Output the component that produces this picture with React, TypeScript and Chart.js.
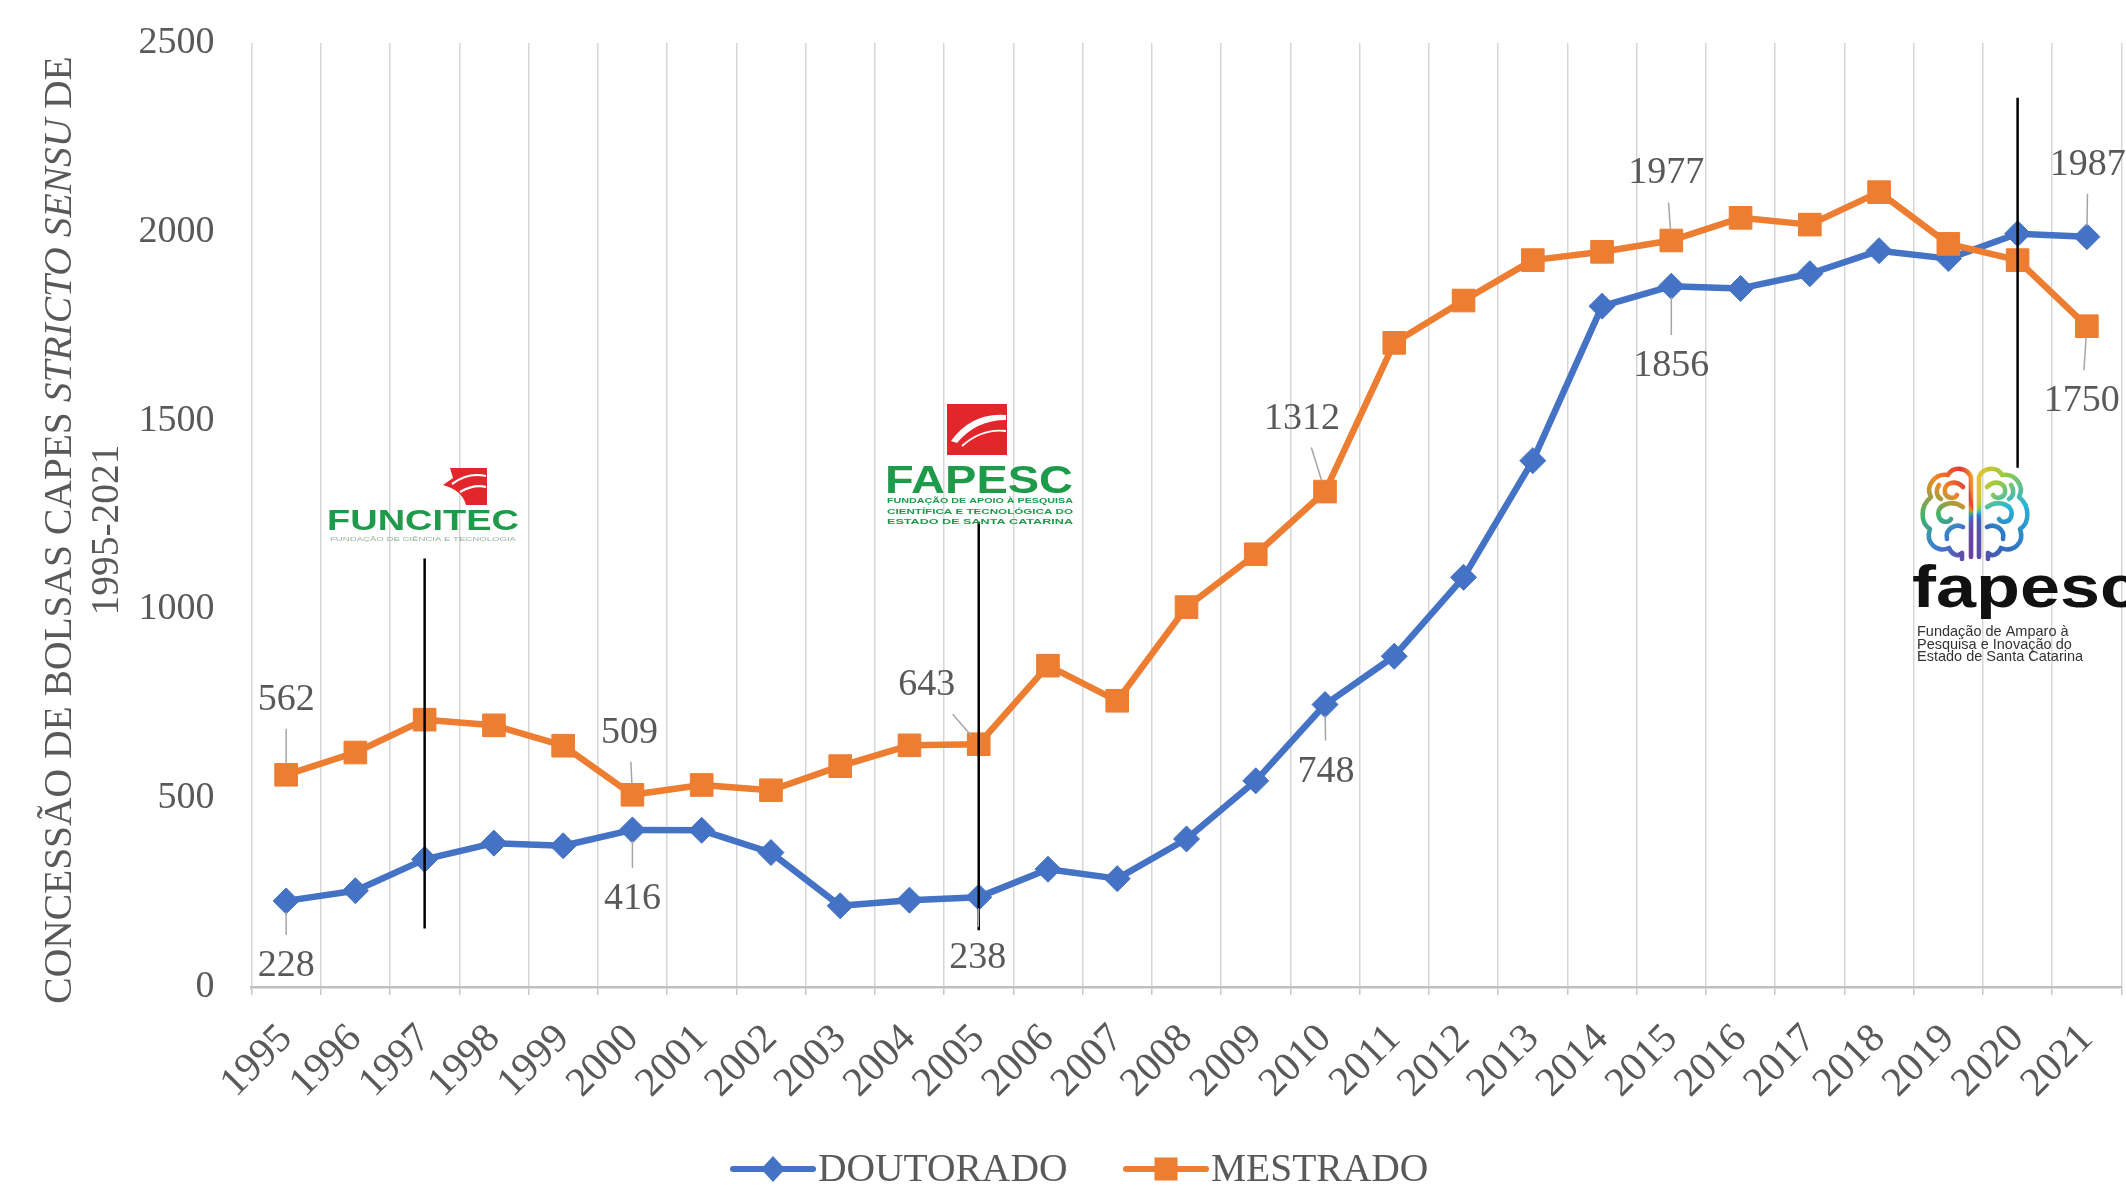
import React, { useEffect, useRef } from 'react';
import { Chart, registerables } from 'chart.js';

Chart.register(...registerables);

// Years on the category axis
const years = [
  '1995', '1996', '1997', '1998', '1999', '2000', '2001', '2002', '2003',
  '2004', '2005', '2006', '2007', '2008', '2009', '2010', '2011', '2012',
  '2013', '2014', '2015', '2016', '2017', '2018', '2019', '2020', '2021',
];

// CAPES grants per year
const doutorado = [
  228, 255, 338, 381, 374, 416, 415, 356, 215, 230, 238, 312, 287, 392,
  546, 748, 876, 1085, 1394, 1803, 1856, 1850, 1889, 1950, 1929, 1995, 1987,
];
const mestrado = [
  562, 621, 708, 693, 639, 509, 535, 521, 585, 640, 643, 851, 758, 1006,
  1146, 1312, 1706, 1818, 1925, 1947, 1977, 2037, 2019, 2105, 1968, 1925, 1750,
];

// Value axis
const yMin = 0;
const yMax = 2500;
const yStep = 500;

// Years in which a state funding agency appears, with the span of its marker line
const agencyYears = ['1997', '2005', '2020'];
const agencyLineTop = [1135, 1232, 2355];
const agencyLineBottom = [155, 150, 1375];

// Points that carry a value label (dataset index, year index, label offset in px)
const pointLabels = [
  { ds: 1, i: 0, dx: 0, dy: -76 },
  { ds: 0, i: 0, dx: 0, dy: 64 },
  { ds: 1, i: 5, dx: -3, dy: -63 },
  { ds: 0, i: 5, dx: 0, dy: 68 },
  { ds: 1, i: 10, dx: -52, dy: -60 },
  { ds: 0, i: 10, dx: -1, dy: 60 },
  { ds: 1, i: 15, dx: -23, dy: -74 },
  { ds: 0, i: 15, dx: 1, dy: 66 },
  { ds: 1, i: 20, dx: -5, dy: -68 },
  { ds: 0, i: 20, dx: 0, dy: 79 },
  { ds: 0, i: 26, dx: 1, dy: -73 },
  { ds: 1, i: 26, dx: -5, dy: 74 },
];

const SERIF = "'Liberation Serif', 'Times New Roman', serif";
const SANS = "'Liberation Sans', Arial, sans-serif";
const TEXT = '#595959';
const BLUE = '#4472C4';
const ORANGE = '#ED7D31';
const GREEN = '#1E9A4B';
const RED = '#E3262B';

function fitText(ctx: CanvasRenderingContext2D, text: string, x: number, y: number, width: number, font: string, color: string) {
  ctx.save();
  ctx.font = font;
  ctx.fillStyle = color;
  ctx.textAlign = 'left';
  ctx.textBaseline = 'alphabetic';
  const w = ctx.measureText(text).width;
  ctx.translate(x, y);
  ctx.scale(width / w, 1);
  ctx.fillText(text, 0, 0);
  ctx.restore();
}

function drawFuncitec(ctx: CanvasRenderingContext2D) {
  ctx.save();
  ctx.fillStyle = RED;
  ctx.beginPath();
  ctx.moveTo(450, 468);
  ctx.lineTo(487, 468);
  ctx.lineTo(487, 505);
  ctx.lineTo(466, 505);
  ctx.quadraticCurveTo(462, 490, 443, 485);
  ctx.lineTo(453, 478);
  ctx.closePath();
  ctx.fill();
  ctx.strokeStyle = '#ffffff';
  ctx.lineWidth = 2.2;
  ctx.beginPath();
  ctx.moveTo(452, 484);
  ctx.quadraticCurveTo(468, 472, 486, 476);
  ctx.stroke();
  ctx.beginPath();
  ctx.moveTo(460, 492);
  ctx.quadraticCurveTo(474, 484, 486, 487);
  ctx.stroke();
  ctx.restore();
  fitText(ctx, 'FUNCITEC', 327, 530, 192, `bold 30px ${SANS}`, GREEN);
  ctx.save();
  ctx.globalAlpha = 0.6;
  fitText(ctx, 'FUNDAÇÃO DE CIÊNCIA E TECNOLOGIA', 330, 541, 186, `6px ${SANS}`, '#4d7d5c');
  ctx.restore();
}

function drawFapescOld(ctx: CanvasRenderingContext2D) {
  ctx.save();
  ctx.fillStyle = RED;
  ctx.fillRect(947, 404, 60, 51);
  ctx.fillStyle = '#ffffff';
  ctx.beginPath();
  ctx.moveTo(951, 441);
  ctx.quadraticCurveTo(972, 412, 1006, 415);
  ctx.lineTo(1006, 420);
  ctx.quadraticCurveTo(976, 420, 957, 443);
  ctx.closePath();
  ctx.fill();
  ctx.strokeStyle = '#ffffff';
  ctx.lineWidth = 1.8;
  ctx.beginPath();
  ctx.moveTo(962, 446);
  ctx.quadraticCurveTo(982, 428, 1006, 431);
  ctx.stroke();
  ctx.restore();
  fitText(ctx, 'FAPESC', 885, 493, 188, `bold 38px ${SANS}`, GREEN);
  const sub = ['FUNDAÇÃO DE APOIO À PESQUISA', 'CIENTÍFICA E TECNOLÓGICA DO', 'ESTADO DE SANTA CATARINA'];
  const base = [503, 513.5, 524];
  sub.forEach((s, k) => fitText(ctx, s, 887, base[k], 186, `bold 8px ${SANS}`, GREEN));
}

function drawBrain(ctx: CanvasRenderingContext2D, cx: number, cy: number) {
  const g = (ctx as any).createConicGradient(-Math.PI / 2, cx, cy);
  g.addColorStop(0, '#f2c12e');
  g.addColorStop(0.1, '#9ccc3c');
  g.addColorStop(0.22, '#2bb6d6');
  g.addColorStop(0.38, '#2f6fc0');
  g.addColorStop(0.52, '#6b3fa0');
  g.addColorStop(0.64, '#3a7fd0');
  g.addColorStop(0.74, '#3fb56a');
  g.addColorStop(0.86, '#f08a24');
  g.addColorStop(0.95, '#e53935');
  g.addColorStop(1, '#f2c12e');
  ctx.save();
  ctx.strokeStyle = g;
  ctx.lineWidth = 4.6;
  ctx.lineCap = 'round';
  ctx.lineJoin = 'round';
  for (const s of [-1, 1]) {
    const P = (x: number, y: number): [number, number] => [cx + s * x, cy + y];
    const m = (x: number, y: number) => ctx.moveTo(...P(x, y));
    const l = (x: number, y: number) => ctx.lineTo(...P(x, y));
    const b = (a: number, b2: number, c: number, d: number, e: number, f: number) =>
      ctx.bezierCurveTo(...P(a, b2), ...P(c, d), ...P(e, f));
    ctx.beginPath();
    m(4, -36);
    b(8, -46, 22, -47, 27, -38);
    b(40, -40, 50, -27, 44, -16);
    b(55, -7, 55, 10, 45, 16);
    b(50, 30, 38, 40, 26, 35);
    b(23, 42, 17, 44, 13, 40);
    l(13, 46);
    m(4, -36);
    l(4, 44);
    m(12, -26);
    b(20, -34, 32, -30, 30, -20);
    b(28, -14, 20, -14, 18, -18);
    m(12, -6);
    b(24, -14, 40, -8, 36, 4);
    b(34, 10, 26, 10, 24, 6);
    m(12, 14);
    b(20, 10, 30, 16, 28, 26);
    m(36, -28);
    b(40, -22, 38, -16, 34, -14);
    ctx.stroke();
  }
  ctx.restore();
}

function drawFapescNew(ctx: CanvasRenderingContext2D) {
  drawBrain(ctx, 1975, 513);
  fitText(ctx, 'fapesc', 1912, 607, 228, `bold 60px ${SANS}`, '#111111');
  ctx.save();
  ctx.font = `14.5px ${SANS}`;
  ctx.fillStyle = '#333333';
  ctx.textAlign = 'left';
  ctx.textBaseline = 'alphabetic';
  ['Fundação de Amparo à', 'Pesquisa e Inovação do', 'Estado de Santa Catarina'].forEach((s, k) => {
    ctx.fillText(s, 1917, 636 + k * 12.5);
  });
  ctx.restore();
}

function drawLegend(ctx: CanvasRenderingContext2D) {
  const y = 1169;
  ctx.save();
  ctx.lineWidth = 6;
  ctx.lineCap = 'round';
  ctx.strokeStyle = BLUE;
  ctx.beginPath();
  ctx.moveTo(733, y);
  ctx.lineTo(813, y);
  ctx.stroke();
  ctx.fillStyle = BLUE;
  ctx.beginPath();
  ctx.moveTo(773, y - 13);
  ctx.lineTo(785, y);
  ctx.lineTo(773, y + 13);
  ctx.lineTo(761, y);
  ctx.closePath();
  ctx.fill();
  ctx.strokeStyle = ORANGE;
  ctx.beginPath();
  ctx.moveTo(1126, y);
  ctx.lineTo(1206, y);
  ctx.stroke();
  ctx.fillStyle = ORANGE;
  ctx.fillRect(1166 - 11.5, y - 11.5, 23, 23);
  ctx.font = `39.5px ${SERIF}`;
  ctx.fillStyle = TEXT;
  ctx.textAlign = 'left';
  ctx.textBaseline = 'middle';
  ctx.fillText('DOUTORADO', 818, y + 2);
  ctx.fillText('MESTRADO', 1211, y + 2);
  ctx.restore();
}

function drawAxisTitle(ctx: CanvasRenderingContext2D) {
  ctx.save();
  ctx.translate(61, 530);
  ctx.rotate(-Math.PI / 2);
  ctx.fillStyle = TEXT;
  ctx.textBaseline = 'middle';
  ctx.textAlign = 'left';
  const parts = [
    { t: 'CONCESSÃO DE BOLSAS CAPES ', it: false },
    { t: 'STRICTO SENSU', it: true },
    { t: ' DE', it: false },
  ];
  const fontOf = (it: boolean) => `${it ? 'italic ' : ''}39.5px ${SERIF}`;
  let total = 0;
  const widths = parts.map((p) => {
    ctx.font = fontOf(p.it);
    const w = ctx.measureText(p.t).width;
    total += w;
    return w;
  });
  let x = -total / 2;
  parts.forEach((p, k) => {
    ctx.font = fontOf(p.it);
    ctx.fillText(p.t, x, 0);
    x += widths[k];
  });
  ctx.font = fontOf(false);
  ctx.textAlign = 'center';
  ctx.fillText('1995-2021', 0, 47);
  ctx.restore();
}

const decorations = {
  id: 'decorations',
  afterDatasetsDraw(chart: any) {
    const ctx: CanvasRenderingContext2D = chart.ctx;
    const xs = chart.scales.x;
    const ys = chart.scales.y;
    ctx.save();
    ctx.strokeStyle = '#000000';
    ctx.lineWidth = 2.5;
    agencyYears.forEach((yr, k) => {
      const px = xs.getPixelForValue(years.indexOf(yr));
      ctx.beginPath();
      ctx.moveTo(px, ys.getPixelForValue(agencyLineTop[k]));
      ctx.lineTo(px, ys.getPixelForValue(agencyLineBottom[k]));
      ctx.stroke();
    });
    ctx.font = `38px ${SERIF}`;
    ctx.textAlign = 'center';
    ctx.textBaseline = 'middle';
    pointLabels.forEach((l) => {
      const pt = chart.getDatasetMeta(l.ds).data[l.i];
      const text = String(chart.data.datasets[l.ds].data[l.i]);
      const lx = pt.x + l.dx;
      const ly = pt.y + l.dy;
      const w = ctx.measureText(text).width;
      const vx = pt.x - lx;
      const vy = pt.y - ly;
      const dist = Math.hypot(vx, vy);
      const ux = vx / dist;
      const uy = vy / dist;
      const hw = w / 2 + 10;
      const hh = 30;
      const tBox = Math.min(ux !== 0 ? hw / Math.abs(ux) : Infinity, uy !== 0 ? hh / Math.abs(uy) : Infinity);
      const end = dist - 11;
      if (end - tBox > 4) {
        ctx.strokeStyle = '#A6A6A6';
        ctx.lineWidth = 1.5;
        ctx.beginPath();
        ctx.moveTo(lx + ux * tBox, ly + uy * tBox);
        ctx.lineTo(lx + ux * end, ly + uy * end);
        ctx.stroke();
      }
      ctx.fillStyle = TEXT;
      ctx.fillText(text, lx, ly + 1);
    });
    ctx.restore();
  },
  afterDraw(chart: any) {
    const ctx: CanvasRenderingContext2D = chart.ctx;
    drawAxisTitle(ctx);
    drawLegend(ctx);
    drawFuncitec(ctx);
    drawFapescOld(ctx);
    drawFapescNew(ctx);
  },
};

export default function App() {
  const canvasRef = useRef<HTMLCanvasElement | null>(null);

  useEffect(() => {
    const canvas = canvasRef.current;
    if (!canvas) return;
    const chart = new Chart(canvas, {
      type: 'line',
      data: {
        labels: years,
        datasets: [
          {
            label: 'DOUTORADO',
            data: doutorado,
            order: 1,
            borderColor: BLUE,
            backgroundColor: BLUE,
            borderWidth: 6.5,
            borderJoinStyle: 'round',
            borderCapStyle: 'round',
            tension: 0,
            pointStyle: 'rectRot',
            pointRadius: 13,
            pointBorderWidth: 1,
            pointBorderColor: BLUE,
            pointBackgroundColor: BLUE,
          },
          {
            label: 'MESTRADO',
            data: mestrado,
            order: 0,
            borderColor: ORANGE,
            backgroundColor: ORANGE,
            borderWidth: 6.5,
            borderJoinStyle: 'round',
            borderCapStyle: 'round',
            tension: 0,
            pointStyle: 'rect',
            pointRadius: 16,
            pointBorderWidth: 1,
            pointBorderColor: ORANGE,
            pointBackgroundColor: ORANGE,
          },
        ],
      },
      options: {
        responsive: false,
        animation: false,
        devicePixelRatio: 1,
        layout: { autoPadding: false, padding: { top: 43, right: 4.5, bottom: 0, left: 0 } },
        plugins: {
          legend: { display: false },
          tooltip: { enabled: false },
        },
        scales: {
          x: {
            type: 'category',
            offset: true,
            grid: {
              offset: true,
              color: '#D6D6D6',
              lineWidth: 1.5,
              drawTicks: true,
              tickLength: 8,
              tickColor: '#C8C8C8',
            },
            border: { color: '#BFBFBF', width: 2.5 },
            ticks: {
              autoSkip: false,
              minRotation: 45,
              maxRotation: 45,
              color: TEXT,
              padding: 20,
              font: { family: SERIF, size: 41 },
            },
            afterFit: (s: any) => {
              s.height = 200;
              s.paddingLeft = 0;
              s.paddingRight = 0;
            },
          },
          y: {
            min: yMin,
            max: yMax,
            grid: { display: false },
            border: { display: false },
            ticks: {
              stepSize: yStep,
              color: TEXT,
              padding: 29,
              font: { family: SERIF, size: 38 },
              callback: (v: any) => String(v),
            },
            afterFit: (s: any) => {
              s.width = 251.5;
              s.paddingTop = 0;
              s.paddingBottom = 0;
            },
          },
        },
      },
      plugins: [decorations],
    } as any);
    return () => chart.destroy();
  }, []);

  return (
    <div style={{ position: 'absolute', left: 0, top: 0, width: 2126, height: 1187, background: '#ffffff' }}>
      <canvas ref={canvasRef} width={2126} height={1187} style={{ display: 'block', width: 2126, height: 1187 }} />
    </div>
  );
}
